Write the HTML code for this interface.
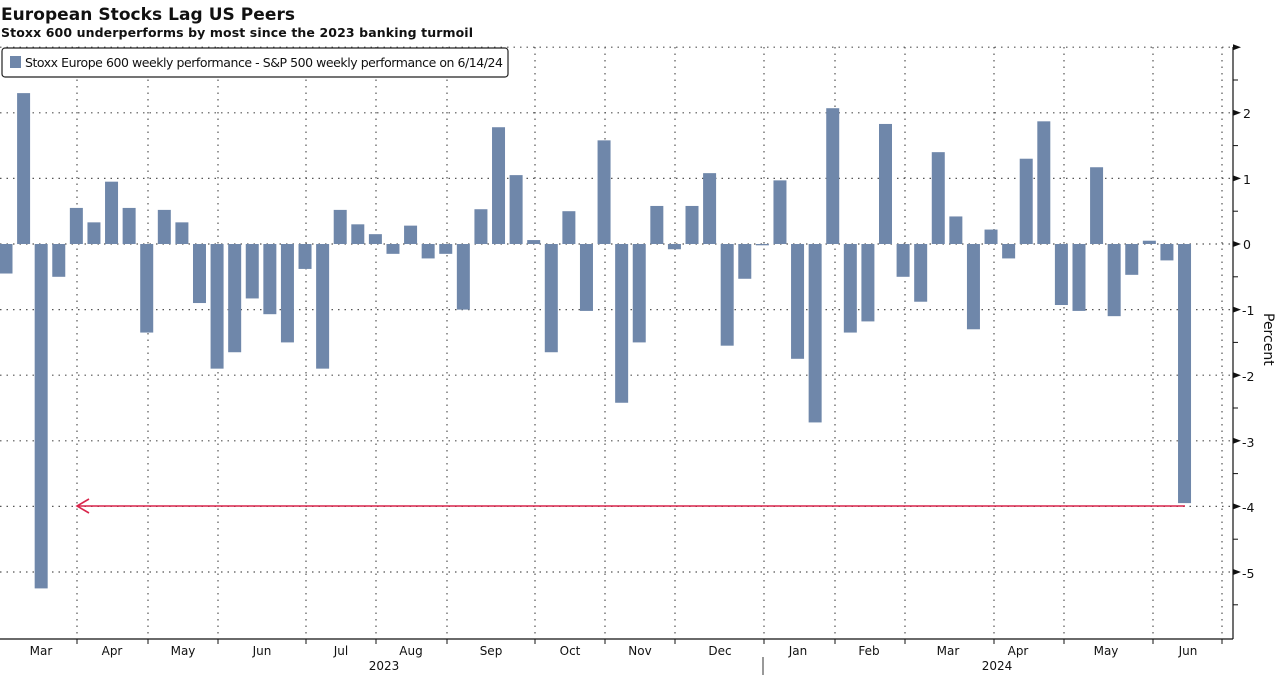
<!DOCTYPE html>
<html><head><meta charset="utf-8"><style>
html,body{margin:0;padding:0;background:#fff;}
svg{display:block;}
text{font-family:"DejaVu Sans","Liberation Sans",sans-serif;fill:#111;}
</style></head><body>
<svg id="c" width="1280" height="675" viewBox="0 0 1280 675" xmlns="http://www.w3.org/2000/svg">
<text x="1" y="20" font-size="17" font-weight="bold" textLength="294">European Stocks Lag US Peers</text>
<text x="1" y="37" font-size="12.5" font-weight="bold" textLength="472">Stoxx 600 underperforms by most since the 2023 banking turmoil</text>
<g id="grid"></g>
<g id="bars"></g>
<line x1="77" y1="506" x2="1185" y2="506" stroke="#d9254b" stroke-width="1.6"/>
<polyline points="89,499 77,506 89,513" fill="none" stroke="#d9254b" stroke-width="1.6"/>
<rect x="2" y="48" width="506" height="29" rx="3" fill="#fff" stroke="#222" stroke-width="1.2"/>
<rect x="10" y="56" width="11" height="12" fill="#6f87aa"/>
<text x="25" y="67" font-size="12.5" textLength="478">Stoxx Europe 600 weekly performance - S&amp;P 500 weekly performance on 6/14/24</text>
<line x1="1233" y1="47" x2="1233" y2="639" stroke="#111" stroke-width="1.2"/>
<line x1="0" y1="639" x2="1233" y2="639" stroke="#111" stroke-width="1.2"/>
<g font-size="12.5">
<text x="1243" y="118">2</text><text x="1243" y="184">1</text><text x="1243" y="249">0</text>
<text x="1242" y="315">-1</text><text x="1242" y="381">-2</text><text x="1242" y="447">-3</text>
<text x="1242" y="512">-4</text><text x="1242" y="578">-5</text>
</g>
<text x="0" y="0" font-size="14" transform="translate(1264,313) rotate(90)">Percent</text>
<g font-size="12" text-anchor="middle">
<text x="41" y="655">Mar</text><text x="112" y="655">Apr</text><text x="183" y="655">May</text>
<text x="262" y="655">Jun</text><text x="341" y="655">Jul</text><text x="411" y="655">Aug</text>
<text x="491" y="655">Sep</text><text x="570" y="655">Oct</text><text x="640" y="655">Nov</text>
<text x="720" y="655">Dec</text><text x="798" y="655">Jan</text><text x="869" y="655">Feb</text>
<text x="948" y="655">Mar</text><text x="1018" y="655">Apr</text><text x="1106" y="655">May</text>
<text x="1188" y="655">Jun</text>
<text x="384" y="670">2023</text><text x="997" y="670">2024</text>
</g>
<line x1="763" y1="657" x2="763" y2="675" stroke="#333" stroke-width="1"/>
</svg>
<script>
var NS="http://www.w3.org/2000/svg";
function el(p,t,a){var e=document.createElementNS(NS,t);for(var k in a)e.setAttribute(k,a[k]);p.appendChild(e);return e;}
var g=document.getElementById("grid"),b=document.getElementById("bars");
var z=244,u=65.6;
for(var v=3;v>=-5;v--){var y=z-v*u;el(g,"line",{x1:0,y1:y,x2:1233,y2:y,stroke:"#555","stroke-width":1.2,"stroke-dasharray":"1.5,5"});
 el(g,"polygon",{points:(1233)+","+(y-3)+" "+(1241)+","+y+" "+1233+","+(y+3),fill:"#111"});
 var y2=y+u/2;el(g,"line",{x1:1233,y1:y2,x2:1238,y2:y2,stroke:"#111","stroke-width":1});}
[77,148,218,306,376,447,535,605,675,764,835,905,994,1064,1153,1222].forEach(function(x){
 el(g,"line",{x1:x,y1:47,x2:x,y2:639,stroke:"#555","stroke-width":1.2,"stroke-dasharray":"1.5,5"});
 el(g,"line",{x1:x,y1:639,x2:x,y2:644,stroke:"#111","stroke-width":1});});
var d=[-0.45,2.3,-5.25,-0.5,0.55,0.33,0.95,0.55,-1.35,0.52,0.33,-0.9,-1.9,-1.65,-0.83,-1.07,-1.5,-0.38,-1.9,0.52,0.3,0.15,-0.15,0.28,-0.22,-0.15,-1.0,0.53,1.78,1.05,0.06,-1.65,0.5,-1.02,1.58,-2.42,-1.5,0.58,-0.08,0.58,1.08,-1.55,-0.53,-0.02,0.97,-1.75,-2.72,2.07,-1.35,-1.18,1.83,-0.5,-0.88,1.4,0.42,-1.3,0.22,-0.22,1.3,1.87,-0.93,-1.02,1.17,-1.1,-0.47,0.05,-0.25,-3.95];
d.forEach(function(v,i){var cx=6+i*17.59,h=Math.abs(v)*u;el(b,"rect",{x:cx-6.5,y:v>0?z-h:z,width:13,height:Math.max(h,1),fill:"#6f87aa"});});
</script>
</body></html>
